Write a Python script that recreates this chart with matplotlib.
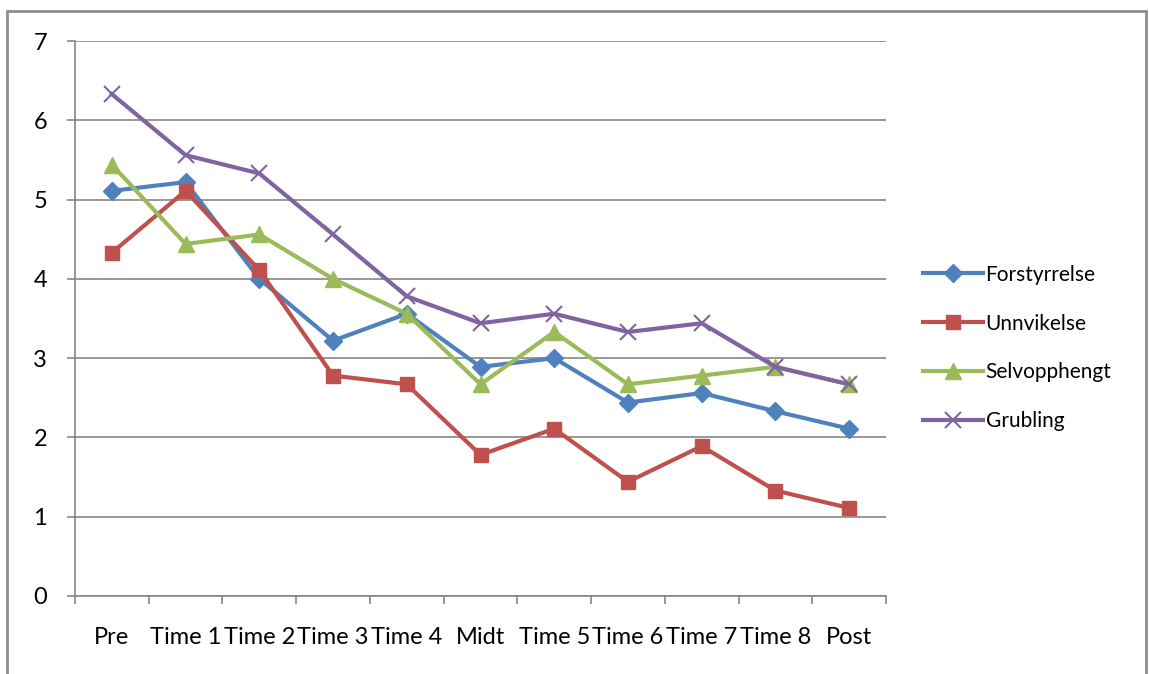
import matplotlib.pyplot as plt
import matplotlib.patches as patches
import numpy as np

categories = ["Pre", "Time 1", "Time 2", "Time 3", "Time 4", "Midt",
              "Time 5", "Time 6", "Time 7", "Time 8", "Post"]
forstyrrelse = [5.11, 5.22, 4.00, 3.22, 3.56, 2.89, 3.00, 2.44, 2.56, 2.33, 2.11]
unnvikelse = [4.33, 5.11, 4.11, 2.78, 2.67, 1.78, 2.11, 1.44, 1.89, 1.33, 1.11]
selvopphengt = [5.44, 4.44, 4.56, 4.00, 3.56, 2.67, 3.33, 2.67, 2.78, 2.89, 2.67]
grubling = [6.33, 5.56, 5.33, 4.56, 3.78, 3.44, 3.56, 3.33, 3.44, 2.89, 2.67]

plt.rcParams['font.family'] = ['Lato', 'DejaVu Sans']

fig = plt.figure(figsize=(11.49, 6.74), dpi=100)
# outer chart border
fig.patches.append(patches.Rectangle((7/1149, -0.05), (1146-7)/1149, 1.05 - 11/674,
                                     transform=fig.transFigure, fill=False,
                                     edgecolor='#8c8c8c', linewidth=2))
ax = fig.add_axes([75/1149, 78/674, 811/1149, 555/674])

x = np.arange(len(categories))
ax.plot(x, forstyrrelse, color='#4F81BD', marker='D', markersize=9, linewidth=3, label='Forstyrrelse')
ax.plot(x, unnvikelse, color='#C0504D', marker='s', markersize=10, linewidth=3, label='Unnvikelse')
ax.plot(x, selvopphengt, color='#9BBB59', marker='^', markersize=11, linewidth=3, label='Selvopphengt')
ax.plot(x, grubling, color='#8064A2', marker='x', markersize=11, markeredgewidth=1.5, linewidth=3, label='Grubling')

ax.set_xlim(-0.5, len(categories) - 0.5)
ax.set_ylim(0, 7)
ax.set_yticks(range(8))
ax.set_xticks(x)
ax.set_xticklabels(categories)
ax.set_xticks(np.arange(-0.5, len(categories)), minor=True)
ax.tick_params(axis='x', which='major', length=0, pad=22, labelsize=17)
ax.tick_params(axis='x', which='minor', length=6, color='#868686', width=1.2)
ax.tick_params(axis='y', length=6, color='#868686', width=1.2, pad=14, labelsize=17)
ax.grid(True, axis='y', color='#868686', linewidth=1.2)
ax.set_axisbelow(True)
for s in ['top', 'right']:
    ax.spines[s].set_visible(False)
for s in ['left', 'bottom']:
    ax.spines[s].set_color('#868686')
    ax.spines[s].set_linewidth(1.2)

ax.legend(loc='center left', bbox_to_anchor=(1.022, 0.447), frameon=False,
          fontsize=15, handlelength=2.9, handletextpad=0.12, labelspacing=1.38)

fig.savefig('out.png', dpi=100)
